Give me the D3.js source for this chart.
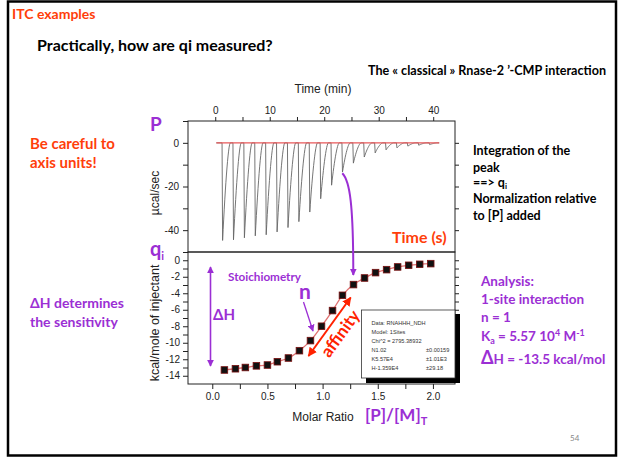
<!DOCTYPE html>
<html><head><meta charset="utf-8">
<script src="https://cdn.jsdelivr.net/npm/d3@7"></script>
<style>
body{margin:0;background:#fff}
svg{display:block}
.ax text{font-family:"Liberation Sans",Arial,sans-serif;font-size:10px;fill:#222}
.ax path,.ax line{stroke:#222;stroke-width:1}
.cal{font-family:Lato,"Open Sans",sans-serif;font-weight:700}
</style></head>
<body>
<svg id="c" width="620" height="461"></svg>
<script>
// ---------- data ----------
const injectionTimes = [1.35,3.35,5.35,7.35,9.35,11.35,13.35,15.35,17.35,19.35,21.35,23.35,25.35,27.35,29.35,31.35,33.35,35.35,37.35,39.35];
const peakHeights = [-44.7,-44.4,-43.5,-42.6,-42.1,-40.8,-38.8,-36.1,-31.7,-25.6,-19.4,-13.4,-9.3,-6.5,-4.6,-3.2,-2.3,-1.5,-1.1,-0.8];
const baselineRange = [0.2,41.1];
const timeTicks = [0,10,20,30,40];
const timeMinorTicks = [5,15,25,35];
const powerTicks = [0,-20,-40];
const powerMinorTicks = [10,-10,-30];
const molarRatio = [0.11,0.21,0.30,0.40,0.50,0.59,0.69,0.79,0.89,0.99,1.09,1.18,1.28,1.38,1.48,1.58,1.68,1.78,1.88,1.98];
const heatPerMol = [-13.3,-13.15,-13.0,-12.8,-12.7,-12.3,-11.85,-10.96,-9.74,-8.0,-6.1,-4.25,-2.95,-2.15,-1.5,-1.14,-0.81,-0.61,-0.49,-0.41];
const ratioTicks = [0,0.5,1,1.5,2];
const ratioMinorTicks = [0.25,0.75,1.25,1.75];
const heatTicks = [0,-2,-4,-6,-8,-10,-12,-14];
const heatMinorTicks = [1,-1,-3,-5,-7,-9,-11,-13];
const fitInfo = ["Data: RNAHHH_NDH","Model: 1Sites","Chi^2 = 2795.38932"];
const fitParams = ["N1.02","K5.57E4","H-1.359E4"];
const fitErrors = ["\u00b10.00159","\u00b11.01E3","\u00b129.18"];

// ---------- setup ----------
const svg = d3.select("#c");
const PURPLE = "#9B2FD4", ORANGE = "#FF3E0A", RED = "#FF2200";
svg.append("rect").attr("width",620).attr("height",461).attr("fill","#fff");
svg.append("rect").attr("x",8).attr("y",1.5).attr("width",608).attr("height",454)
  .attr("fill","none").attr("stroke","#000").attr("stroke-width",2.5);

const defs = svg.append("defs");
function marker(id,color,size){
  defs.append("marker").attr("id",id).attr("viewBox","0 0 10 10").attr("refX",9).attr("refY",5)
    .attr("markerWidth",size).attr("markerHeight",size).attr("orient","auto-start-reverse")
    .attr("markerUnits","userSpaceOnUse")
    .append("path").attr("d","M0,0L10,5L0,10z").attr("fill",color);
}
marker("ap",PURPLE,7); marker("ar",RED,9);
const fmtInt = d => String(d);
const fmt1 = d => d.toFixed(1);

// ---------- top panel ----------
const L=188,R=455,T1=121,B1=252,T2=252,B2=384;
const xT = d3.scaleLinear().domain([-5,44]).range([L,R]);
const yT = d3.scaleLinear().domain([10,-50]).range([T1,B1]);

const trace=[[baselineRange[0],0]];
injectionTimes.forEach((t,i)=>{
  const d=peakHeights[i];
  trace.push([t-0.1,0],[t,d]);
  for(let k=1;k<=14;k++){const tau=k*0.1; trace.push([t+tau, d*Math.pow(Math.max(0,1-tau/1.4),1.6)]);}
});
trace.push([baselineRange[1],0]);
svg.append("path").attr("d",d3.line().x(d=>xT(d[0])).y(d=>yT(d[1]))(trace))
  .attr("fill","none").attr("stroke","#666").attr("stroke-width",0.9);
svg.append("line").attr("x1",xT(baselineRange[0])).attr("x2",xT(baselineRange[1]))
  .attr("y1",yT(0)).attr("y2",yT(0)).attr("stroke","#e8585a").attr("stroke-width",1.2);

svg.append("rect").attr("x",L).attr("y",T1).attr("width",R-L).attr("height",B1-T1)
  .attr("fill","none").attr("stroke","#222");
svg.append("g").attr("class","ax").attr("transform",`translate(0,${T1})`)
  .call(d3.axisTop(xT).tickValues(timeTicks).tickSize(4).tickPadding(3).tickFormat(fmtInt));
svg.append("g").attr("class","ax").attr("transform",`translate(0,${T1})`)
  .call(d3.axisTop(xT).tickValues(timeMinorTicks).tickSize(4).tickFormat(""));
svg.append("g").attr("class","ax").attr("transform",`translate(${L},0)`)
  .call(d3.axisLeft(yT).tickValues(powerTicks).tickSize(5).tickPadding(4).tickFormat(fmtInt));
svg.append("g").attr("class","ax").attr("transform",`translate(${L},0)`)
  .call(d3.axisLeft(yT).tickValues(powerMinorTicks).tickSize(5).tickFormat(""));
svg.append("g").attr("class","ax").attr("transform",`translate(${R},0)`)
  .call(d3.axisRight(yT).tickValues(powerTicks.concat(powerMinorTicks).filter(v=>v<10)).tickSize(4).tickFormat(""));
svg.selectAll(".ax .domain").remove();

svg.append("text").attr("x",323).attr("y",93).attr("text-anchor","middle")
  .style("font-family","Liberation Sans, Arial").style("font-size","12px").attr("fill","#222").text("Time (min)");
svg.append("text").attr("transform","translate(159,193) rotate(-90)").attr("text-anchor","middle")
  .style("font-family","Liberation Sans, Arial").style("font-size","12px").attr("fill","#222").text("\u00b5cal/sec");

// ---------- bottom panel ----------
const xB = d3.scaleLinear().domain([-0.22,2.2]).range([L,R]);
const yB = d3.scaleLinear().domain([1,-15]).range([T2,B2]);

svg.append("rect").attr("x",L).attr("y",T2).attr("width",R-L).attr("height",B2-T2)
  .attr("fill","none").attr("stroke","#222");
svg.append("g").attr("class","ax").attr("transform",`translate(0,${B2})`)
  .call(d3.axisBottom(xB).tickValues(ratioTicks).tickSize(5).tickPadding(4).tickFormat(fmt1));
svg.append("g").attr("class","ax").attr("transform",`translate(0,${B2})`)
  .call(d3.axisBottom(xB).tickValues(ratioMinorTicks).tickSize(5).tickFormat(""));
svg.append("g").attr("class","ax").attr("transform",`translate(${L},0)`)
  .call(d3.axisLeft(yB).tickValues(heatTicks).tickSize(5).tickPadding(3).tickFormat(fmtInt));
svg.append("g").attr("class","ax").attr("transform",`translate(${L},0)`)
  .call(d3.axisLeft(yB).tickValues(heatMinorTicks).tickSize(5).tickFormat(""));
svg.append("g").attr("class","ax").attr("transform",`translate(${R},0)`)
  .call(d3.axisRight(yB).tickValues(heatTicks.concat(heatMinorTicks).filter(v=>v<1)).tickSize(4).tickFormat(""));
svg.selectAll(".ax .domain").remove();

const pts = molarRatio.map((m,i)=>[m,heatPerMol[i]]);
svg.append("path").attr("d",d3.line().x(d=>xB(d[0])).y(d=>yB(d[1])).curve(d3.curveCatmullRom)(pts))
  .attr("fill","none").attr("stroke","#e07272").attr("stroke-width",1.3);
svg.selectAll("rect.pt").data(pts).join("rect").attr("class","pt")
  .attr("x",d=>xB(d[0])-3.3).attr("y",d=>yB(d[1])-3.3).attr("width",6.6).attr("height",6.6)
  .attr("fill","#111").attr("stroke","#7a1010").attr("stroke-width",0.8);

// legend box
svg.append("rect").attr("x",366).attr("y",314).attr("width",94).attr("height",69).attr("fill","#000");
svg.append("rect").attr("x",361.5).attr("y",310).attr("width",93.5).attr("height",68)
  .attr("fill","#fff").attr("stroke","#333").attr("stroke-width",0.8);
const lg = svg.append("g").style("font-family","Liberation Sans, Arial").style("font-size","5.6px").attr("fill","#333");
fitInfo.forEach((s,i)=>lg.append("text").attr("x",371.5).attr("y",324.5+i*9).text(s));
fitParams.forEach((s,i)=>lg.append("text").attr("x",371.5).attr("y",351.5+i*9).text(s));
fitErrors.forEach((s,i)=>lg.append("text").attr("x",426).attr("y",351.5+i*9).text(s));

svg.append("text").attr("transform","translate(159,323) rotate(-90)").attr("text-anchor","middle")
  .style("font-family","Liberation Sans, Arial").style("font-size","12.5px").attr("fill","#222").text("kcal/mole of injectant");
svg.append("text").attr("x",323).attr("y",421).attr("text-anchor","middle")
  .style("font-family","Liberation Sans, Arial").style("font-size","12px").attr("fill","#222").text("Molar Ratio");

// ---------- slide text ----------
function t(x,y,s,size,color,anchor){
  return svg.append("text").attr("class","cal").attr("x",x).attr("y",y).style("font-size",size+"px")
    .attr("fill",color).attr("text-anchor",anchor||"start").text(s);
}
t(12,19,"ITC examples",14,ORANGE);
t(37,51,"Practically, how are qi measured?",16,"#000");
t(368,75,"The \u00ab classical \u00bb Rnase-2 \u2019-CMP interaction",12.5,"#000")
  .attr("textLength",238).attr("lengthAdjust","spacingAndGlyphs");
t(150,131,"P",19,PURPLE);
t(30,149,"Be careful to",15,ORANGE);
t(30,168,"axis units!",15,ORANGE);
t(30,308,"\u0394H determines",14,PURPLE);
t(30,327,"the sensitivity",14,PURPLE);
t(392,243,"Time (s)",16,ORANGE);
const qi=t(150,256,"q",20,PURPLE); qi.append("tspan").attr("dy",4).style("font-size","11px").text("i");

const integ = ["Integration of the","peak",null,"Normalization relative","to [P] added"];
const integY=[155,172,187,203,220];
integ.forEach((s,i)=>{ if(s) t(473,integY[i],s,12.5,"#000"); });
const q2=t(473,187,"==> q",12.5,"#000"); q2.append("tspan").attr("dy",2).style("font-size","8px").text("i");

t(481,286,"Analysis:",13.5,PURPLE);
t(481,304,"1-site interaction",13.5,PURPLE);
t(481,322,"n = 1",13.5,PURPLE);
const ka=t(481,341,"K",13.5,PURPLE);
ka.append("tspan").attr("dy",3).style("font-size","9px").text("a");
ka.append("tspan").attr("dy",-3).text(" = 5.57 10");
ka.append("tspan").attr("dy",-5).style("font-size","9px").text("4");
ka.append("tspan").attr("dy",5).text(" M");
ka.append("tspan").attr("dy",-5).style("font-size","9px").text("-1");
const dh=t(481,364,"\u0394",18,PURPLE); dh.append("tspan").style("font-size","13.5px").text("H = -13.5 kcal/mol");

// plot annotations
t(228,281,"Stoichiometry",12,PURPLE).attr("textLength",73).attr("lengthAdjust","spacingAndGlyphs");
t(299,299,"n",21,PURPLE);
t(213,320,"\u0394H",15,PURPLE);
svg.append("line").attr("x1",210.5).attr("x2",210.5).attr("y1",267).attr("y2",366)
  .attr("stroke",PURPLE).attr("stroke-width",1.6).attr("marker-start","url(#ap)").attr("marker-end","url(#ap)");
svg.append("line").attr("x1",303.5).attr("y1",302).attr("x2",313).attr("y2",331)
  .attr("stroke",PURPLE).attr("stroke-width",1.3).attr("marker-end","url(#ap)");
svg.append("path").attr("d","M342.3,173.3 C350,181 353.3,205 353.3,275").attr("fill","none")
  .attr("stroke",PURPLE).attr("stroke-width",2).attr("marker-end","url(#ap)");
svg.append("line").attr("x1",308.5).attr("y1",356).attr("x2",350.7).attr("y2",297.5)
  .attr("stroke",RED).attr("stroke-width",2).attr("marker-start","url(#ar)").attr("marker-end","url(#ar)");
t(0,0,"affinity",17,RED,"middle").attr("transform","translate(345,337) rotate(-54)");

// big label under x axis
const pm=t(365,421,"[P]/[M]",17,PURPLE); pm.append("tspan").attr("dy",4).style("font-size","11px").text("T");

svg.append("text").attr("x",570).attr("y",441).style("font-family","Lato, sans-serif").style("font-size","8px")
  .attr("fill","#888").text("54");
</script>
</body></html>
